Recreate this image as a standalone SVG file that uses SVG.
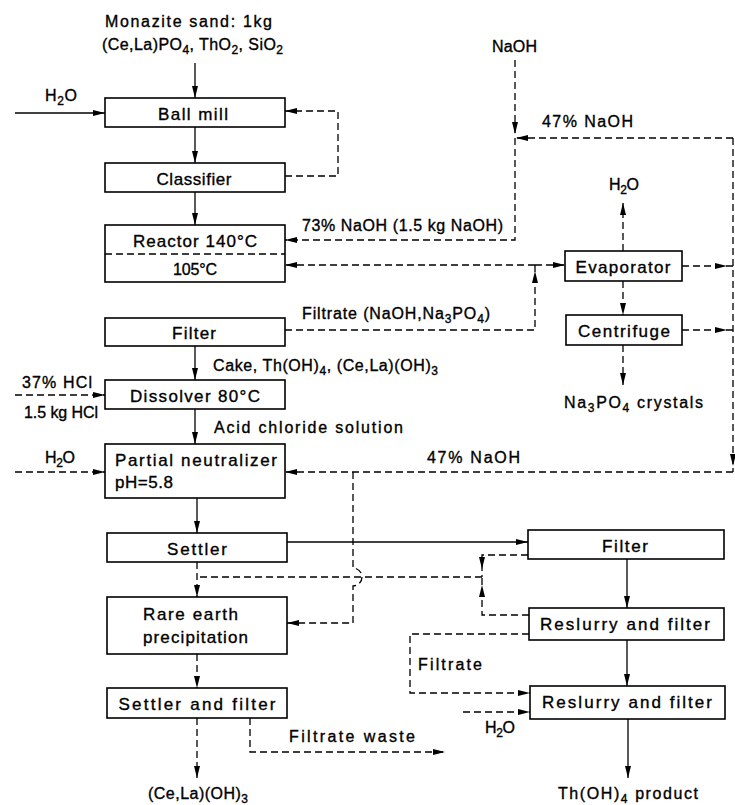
<svg xmlns="http://www.w3.org/2000/svg" xmlns:xlink="http://www.w3.org/1999/xlink" width="735" height="805" viewBox="0 0 735 805">
<style>
.box{fill:#fff;stroke:#000;stroke-width:1.6}
.s{fill:none;stroke:#000;stroke-width:1.3}
.d{fill:none;stroke:#000;stroke-width:1.3;stroke-dasharray:7 4}
text{font-family:"Liberation Sans",Arial,sans-serif;font-size:17px;fill:#000;stroke:#000;stroke-width:0.35}
#labels text,.sm{font-size:16px}
.c{text-anchor:middle}
.sub{font-size:12px}
</style>
<defs>
<marker id="a" viewBox="0 0 12 6" refX="12" refY="3" markerWidth="12" markerHeight="6" markerUnits="userSpaceOnUse" orient="auto"><path d="M0,0 L12,3 L0,6 z" fill="#000"/></marker>
<path id="ah" d="M0,0 L-12,-3 L-12,3 z" fill="#000"/>
</defs>
<rect width="735" height="805" fill="#fff"/>

<g id="connectors">
<path class="s" d="M195,63 V98" marker-end="url(#a)"/>
<path class="s" d="M15,113 H105" marker-end="url(#a)"/>
<path class="s" d="M195,127 V163" marker-end="url(#a)"/>
<path class="d" d="M285,176 H338 V111 H285" marker-end="url(#a)"/>
<path class="s" d="M195,192 V225" marker-end="url(#a)"/>
<path class="d" d="M515,60 V134" marker-end="url(#a)"/>
<path class="d" d="M515,138 V240 H285" marker-end="url(#a)"/>
<path class="d" d="M733,138 H516" marker-end="url(#a)"/>
<path class="d" d="M733,138 V472"/>
<use xlink:href="#ah" transform="translate(733,466) rotate(90)"/>
<path class="d" d="M535,265 H285" marker-end="url(#a)"/>
<path class="d" d="M535,265 H565" marker-end="url(#a)"/>
<path class="d" d="M285,330 H535 V265"/>
<use xlink:href="#ah" transform="translate(535,271) rotate(-90)"/>
<path class="d" d="M623,251 V203" marker-end="url(#a)"/>
<path class="d" d="M623,281 V315" marker-end="url(#a)"/>
<path class="d" d="M623,345 V385" marker-end="url(#a)"/>
<path class="d" d="M682,266 H733"/>
<use xlink:href="#ah" transform="translate(727,266)"/>
<path class="d" d="M682,330 H733"/>
<use xlink:href="#ah" transform="translate(727,330)"/>
<path class="s" d="M195,346 V380" marker-end="url(#a)"/>
<path class="d" d="M15,395 H105" marker-end="url(#a)"/>
<path class="s" d="M195,409 V444" marker-end="url(#a)"/>
<path class="d" d="M15,472 H105" marker-end="url(#a)"/>
<path class="d" d="M733,472 H285" marker-end="url(#a)"/>
<path class="d" d="M353,472 V568 A9,9 0 0 1 353,586 V623 H287" marker-end="url(#a)"/>
<path class="s" d="M197,498 V533" marker-end="url(#a)"/>
<path class="s" d="M287,542 H528" marker-end="url(#a)"/>
<path class="d" d="M197,562 V597" marker-end="url(#a)"/>
<path class="d" d="M482,577 H197"/>
<path class="d" d="M528,555 H482 V577"/>
<use xlink:href="#ah" transform="translate(482,569) rotate(90)"/>
<path class="d" d="M529,615 H482 V577"/>
<use xlink:href="#ah" transform="translate(482,585) rotate(-90)"/>
<path class="d" d="M197,654 V688" marker-end="url(#a)"/>
<path class="d" d="M197,718 V778" marker-end="url(#a)"/>
<path class="d" d="M250,718 V752 H445" marker-end="url(#a)"/>
<path class="s" d="M627,559 V608" marker-end="url(#a)"/>
<path class="s" d="M627,640 V686" marker-end="url(#a)"/>
<path class="d" d="M529,634 H410 V693 H530" marker-end="url(#a)"/>
<path class="d" d="M463,712 H530" marker-end="url(#a)"/>
<path class="s" d="M628,719 V778" marker-end="url(#a)"/>
</g>

<g id="ball-mill"><rect class="box" x="105" y="98" width="180" height="29"/><text class="c" x="193" y="120" textLength="70" lengthAdjust="spacing">Ball mill</text></g>
<g id="classifier"><rect class="box" x="105" y="163" width="180" height="29"/><text class="c" x="194" y="185" textLength="75" lengthAdjust="spacing">Classifier</text></g>
<g id="reactor"><rect class="box" x="105" y="225" width="180" height="57"/><path class="d" d="M105,254 H285"/><text class="c" x="195" y="247" textLength="124" lengthAdjust="spacing">Reactor 140°C</text><text class="c sm" x="195" y="275" textLength="44" lengthAdjust="spacing">105°C</text></g>
<g id="filter1"><rect class="box" x="105" y="318" width="180" height="28"/><text class="c" x="194" y="339" textLength="44" lengthAdjust="spacing">Filter</text></g>
<g id="dissolver"><rect class="box" x="105" y="380" width="180" height="29"/><text class="c" x="195" y="402" textLength="130" lengthAdjust="spacing">Dissolver 80°C</text></g>
<g id="partial-neutralizer"><rect class="box" x="105" y="444" width="180" height="54"/><text x="115" y="466" textLength="162" lengthAdjust="spacing">Partial neutralizer</text><text x="115" y="488" textLength="58" lengthAdjust="spacing">pH=5.8</text></g>
<g id="settler"><rect class="box" x="107" y="533" width="180" height="29"/><text class="c" x="197" y="555" textLength="60" lengthAdjust="spacing">Settler</text></g>
<g id="rare-earth"><rect class="box" x="107" y="597" width="180" height="57"/><text x="143" y="620" textLength="95" lengthAdjust="spacing">Rare earth</text><text x="143" y="643" textLength="105" lengthAdjust="spacing">precipitation</text></g>
<g id="settler-filter"><rect class="box" x="107" y="688" width="180" height="30"/><text class="c" x="197" y="710" textLength="157" lengthAdjust="spacing">Settler and filter</text></g>
<g id="evaporator"><rect class="box" x="565" y="251" width="117" height="30"/><text class="c" x="623" y="273" textLength="95" lengthAdjust="spacing">Evaporator</text></g>
<g id="centrifuge"><rect class="box" x="566" y="315" width="116" height="30"/><text class="c" x="624" y="337" textLength="92" lengthAdjust="spacing">Centrifuge</text></g>
<g id="filter2"><rect class="box" x="528" y="530" width="196" height="29"/><text class="c" x="625" y="552" textLength="46" lengthAdjust="spacing">Filter</text></g>
<g id="reslurry1"><rect class="box" x="529" y="608" width="195" height="32"/><text class="c" x="625" y="630" textLength="170" lengthAdjust="spacing">Reslurry and filter</text></g>
<g id="reslurry2"><rect class="box" x="530" y="686" width="195" height="33"/><text class="c" x="627" y="708" textLength="170" lengthAdjust="spacing">Reslurry and filter</text></g>

<g id="labels">
<text x="105" y="27" textLength="167" lengthAdjust="spacing">Monazite sand: 1kg</text>
<text x="102" y="50" textLength="181" lengthAdjust="spacing">(Ce,La)PO<tspan class="sub" dy="4">4</tspan><tspan dy="-4">, ThO</tspan><tspan class="sub" dy="4">2</tspan><tspan dy="-4">, SiO</tspan><tspan class="sub" dy="4">2</tspan></text>
<text x="45" y="101" textLength="32" lengthAdjust="spacing">H<tspan class="sub" dy="4">2</tspan><tspan dy="-4">O</tspan></text>
<text x="492" y="52" textLength="45" lengthAdjust="spacing">NaOH</text>
<text x="542" y="127" textLength="91" lengthAdjust="spacing">47% NaOH</text>
<text x="609" y="190" textLength="30" lengthAdjust="spacing">H<tspan class="sub" dy="4">2</tspan><tspan dy="-4">O</tspan></text>
<text x="302" y="231" textLength="201" lengthAdjust="spacing">73% NaOH (1.5 kg NaOH)</text>
<text x="302" y="319" textLength="188" lengthAdjust="spacing">Filtrate (NaOH,Na<tspan class="sub" dy="4">3</tspan><tspan dy="-4">PO</tspan><tspan class="sub" dy="4">4</tspan><tspan dy="-4">)</tspan></text>
<text x="213" y="371" textLength="225" lengthAdjust="spacing">Cake, Th(OH)<tspan class="sub" dy="4">4</tspan><tspan dy="-4">, (Ce,La)(OH)</tspan><tspan class="sub" dy="4">3</tspan></text>
<text x="22" y="388" textLength="70" lengthAdjust="spacing">37% HCl</text>
<text x="24" y="418" textLength="74" lengthAdjust="spacing">1.5 kg HCl</text>
<text x="564" y="408" textLength="139" lengthAdjust="spacing">Na<tspan class="sub" dy="4">3</tspan><tspan dy="-4">PO</tspan><tspan class="sub" dy="4">4</tspan><tspan dy="-4"> crystals</tspan></text>
<text x="214" y="433" textLength="189" lengthAdjust="spacing">Acid chloride solution</text>
<text x="45" y="463" textLength="30" lengthAdjust="spacing">H<tspan class="sub" dy="4">2</tspan><tspan dy="-4">O</tspan></text>
<text x="427" y="463" textLength="93" lengthAdjust="spacing">47% NaOH</text>
<text x="418" y="670" textLength="64" lengthAdjust="spacing">Filtrate</text>
<text x="485" y="733" textLength="30" lengthAdjust="spacing">H<tspan class="sub" dy="4">2</tspan><tspan dy="-4">O</tspan></text>
<text x="289" y="742" textLength="126" lengthAdjust="spacing">Filtrate waste</text>
<text x="148" y="799" textLength="100" lengthAdjust="spacing">(Ce,La)(OH)<tspan class="sub" dy="4">3</tspan></text>
<text x="558" y="799" textLength="140" lengthAdjust="spacing">Th(OH)<tspan class="sub" dy="4">4</tspan><tspan dy="-4"> product</tspan></text>
</g>
</svg>
